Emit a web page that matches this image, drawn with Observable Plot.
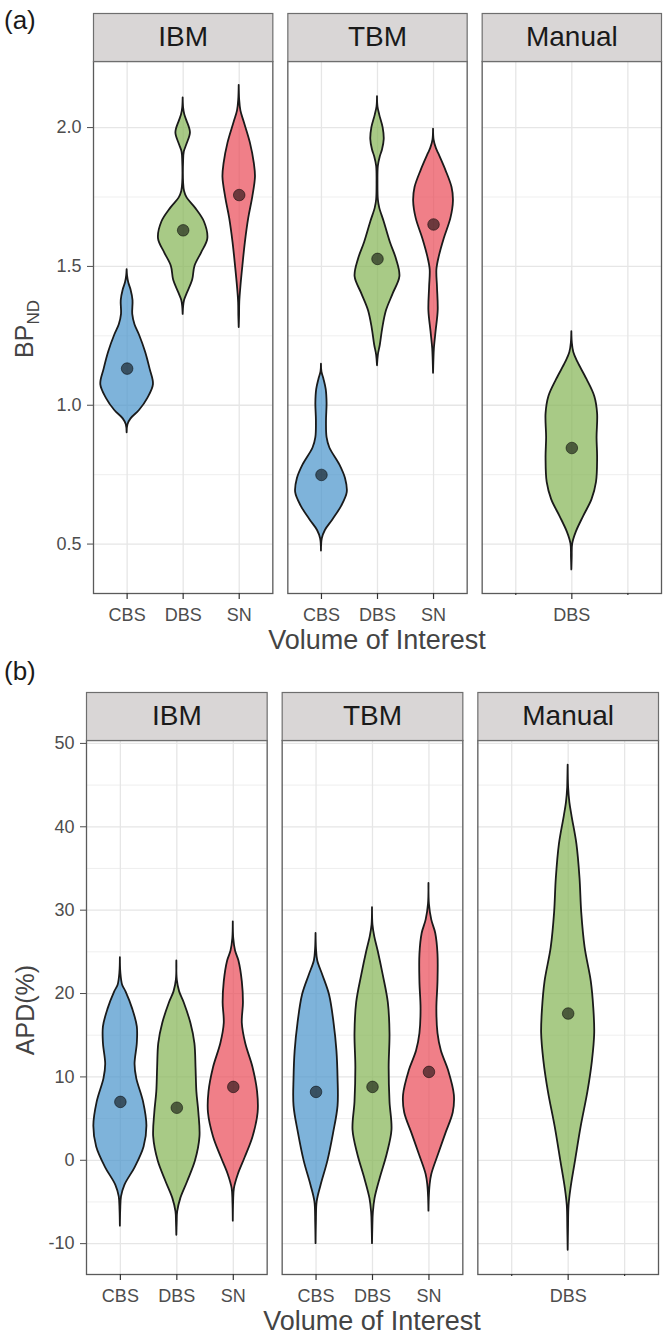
<!DOCTYPE html>
<html>
<head>
<meta charset="utf-8">
<script src="https://cdn.jsdelivr.net/npm/d3@7"></script>
<script src="https://cdn.jsdelivr.net/npm/@observablehq/plot@0.6"></script>
<style>
  html, body { margin: 0; padding: 0; background: #ffffff; }
  #root { width: 670px; font-family: "Liberation Sans", Arial, sans-serif; }
  #root svg { display: block; }
</style>
</head>
<body>
<div id="root"></div>
<script>
// ---------- categories ----------
const methods = ["IBM", "TBM", "Manual"];
const regions = ["CBS", "DBS", "SN"];
const regionColors = ["#4c95cc", "#86b557", "#ea4d5a"];

// ---------- tick labels ----------
const ibmLabels = ["CBS", "DBS", "SN"];
const tbmLabels = ["CBS", "DBS", "SN"];
const manualLabels = ["", "DBS", ""];
const bpTicks = [0.5, 1.0, 1.5, 2.0];
const bpMinor = [0.75, 1.25, 1.75];
const apdTicks = [-10, 0, 10, 20, 30, 40, 50];
const apdMinor = [-5, 5, 15, 25, 35, 45];

// ---------- (a) BPND violin profiles: [value, half width] ----------
const bpIBM_CBS = [[1.488,0],[1.465,0.008],[1.440,0.03],[1.415,0.07],[1.377,0.105],[1.327,0.10],[1.290,0.14],[1.253,0.22],[1.191,0.33],[1.130,0.41],[1.074,0.47],[1.025,0.37],[0.981,0.22],[0.951,0.07],[0.930,0.015],[0.901,0]];
const bpIBM_DBS = [[2.107,0],[2.070,0.008],[2.045,0.03],[2.025,0.065],[1.981,0.13],[1.938,0.065],[1.912,0.02],[1.880,0.008],[1.800,0.008],[1.770,0.025],[1.747,0.07],[1.710,0.22],[1.660,0.38],[1.599,0.44],[1.549,0.33],[1.500,0.21],[1.451,0.17],[1.401,0.07],[1.377,0.025],[1.355,0.008],[1.327,0]];
const bpIBM_SN = [[2.152,0],[2.100,0.008],[2.060,0.03],[2.019,0.09],[1.944,0.20],[1.870,0.27],[1.821,0.29],[1.747,0.24],[1.673,0.17],[1.586,0.11],[1.500,0.065],[1.426,0.03],[1.370,0.01],[1.320,0.006],[1.280,0]];
const bpTBM_CBS = [[1.148,0],[1.120,0.008],[1.093,0.045],[1.056,0.085],[1.006,0.10],[0.944,0.09],[0.883,0.10],[0.846,0.15],[0.784,0.33],[0.735,0.43],[0.685,0.46],[0.636,0.36],[0.586,0.20],[0.549,0.07],[0.519,0.015],[0.475,0]];
const bpTBM_DBS = [[2.111,0],[2.075,0.008],[2.045,0.04],[2.000,0.10],[1.957,0.12],[1.920,0.09],[1.895,0.05],[1.860,0.015],[1.800,0.008],[1.740,0.015],[1.710,0.04],[1.660,0.12],[1.586,0.23],[1.525,0.34],[1.463,0.40],[1.401,0.28],[1.340,0.16],[1.278,0.095],[1.216,0.05],[1.180,0.015],[1.142,0]];
const bpTBM_SN = [[1.994,0],[1.955,0.01],[1.925,0.05],[1.907,0.09],[1.846,0.22],[1.784,0.33],[1.735,0.355],[1.673,0.31],[1.599,0.19],[1.537,0.105],[1.488,0.06],[1.426,0.07],[1.340,0.083],[1.265,0.045],[1.204,0.015],[1.160,0.006],[1.115,0]];
const bpMan_DBS = [[1.265,0],[1.225,0.008],[1.190,0.035],[1.154,0.11],[1.093,0.27],[1.031,0.41],[0.969,0.46],[0.883,0.45],[0.809,0.46],[0.722,0.44],[0.660,0.36],[0.599,0.21],[0.543,0.08],[0.500,0.015],[0.450,0.006],[0.407,0]];
const bpMeansIBM = [1.132, 1.630, 1.757];
const bpMeansTBM = [0.749, 1.527, 1.651];
const bpMeansMan = [0.846];

// ---------- (b) APD violin profiles: [value, half width] ----------
const apdIBM_CBS = [[24.3,0],[22.5,0.008],[21.0,0.04],[20.2,0.10],[18.1,0.22],[16.0,0.30],[14.0,0.30],[11.5,0.26],[9.8,0.29],[7.0,0.41],[4.1,0.47],[1.6,0.42],[-0.9,0.26],[-3.0,0.08],[-4.4,0.02],[-6.0,0.006],[-7.9,0]];
const apdIBM_DBS = [[23.9,0],[21.6,0.008],[20.2,0.05],[18.9,0.13],[16.4,0.25],[14.0,0.32],[11.1,0.34],[8.2,0.355],[5.7,0.39],[2.8,0.41],[-0.1,0.33],[-2.6,0.19],[-4.6,0.07],[-6.2,0.015],[-7.5,0.006],[-9.0,0]];
const apdIBM_SN = [[28.6,0],[26.6,0.008],[25.1,0.04],[23.9,0.10],[21.4,0.16],[18.9,0.18],[16.4,0.16],[14.0,0.22],[11.1,0.35],[8.2,0.43],[5.7,0.44],[2.8,0.35],[0.3,0.21],[-1.7,0.09],[-3.4,0.02],[-5.0,0.006],[-7.3,0]];
const apdTBM_CBS = [[27.2,0],[25.3,0.008],[23.9,0.03],[22.2,0.12],[19.8,0.24],[16.4,0.32],[13.1,0.37],[9.8,0.39],[6.5,0.39],[3.2,0.31],[-0.1,0.21],[-3.0,0.09],[-5.0,0.02],[-7.5,0.006],[-10.0,0]];
const apdTBM_DBS = [[30.3,0],[28.2,0.008],[26.8,0.04],[25.1,0.10],[22.2,0.19],[18.9,0.28],[15.2,0.31],[11.1,0.295],[7.0,0.31],[3.6,0.345],[0.7,0.26],[-2.1,0.14],[-4.6,0.045],[-6.3,0.015],[-8.0,0.006],[-10.0,0]];
const apdTBM_SN = [[33.2,0],[30.7,0.008],[28.8,0.05],[27.2,0.12],[24.7,0.16],[21.4,0.16],[18.1,0.14],[15.2,0.16],[13.1,0.22],[10.7,0.35],[7.8,0.45],[5.7,0.43],[3.2,0.30],[0.7,0.17],[-1.7,0.05],[-3.0,0.02],[-4.5,0.006],[-6.1,0]];
const apdMan_DBS = [[47.4,0],[44.7,0.008],[42.9,0.03],[41.2,0.07],[37.9,0.155],[33.8,0.21],[29.7,0.24],[25.5,0.30],[21.4,0.41],[18.1,0.455],[15.2,0.47],[11.9,0.43],[8.2,0.35],[4.0,0.23],[-0.1,0.13],[-3.4,0.05],[-5.5,0.015],[-8.3,0.006],[-10.8,0]];
const apdMeansIBM = [7.0, 6.3, 8.8];
const apdMeansTBM = [8.2, 8.8, 10.6];
const apdMeansMan = [17.6];

// ---------- build tables ----------
function rowsOf(method, region, profile) {
  const pos = regions.indexOf(region) + 1;
  return profile.map(([v, hw]) => ({method, region, key: method + "-" + region, pos, v, hw}));
}
function meansOf(method, regs, vals) {
  return vals.map((v, i) => ({method, region: regs[i], pos: regions.indexOf(regs[i]) + 1, v}));
}
function tickRows(method, labels) {
  return labels.map((label, i) => ({method, pos: i + 1, label}));
}
const xTickRows = [
  ...tickRows("IBM", ibmLabels),
  ...tickRows("TBM", tbmLabels),
  ...tickRows("Manual", manualLabels)
];

const bpRows = [
  ...rowsOf("IBM", "CBS", bpIBM_CBS), ...rowsOf("IBM", "DBS", bpIBM_DBS), ...rowsOf("IBM", "SN", bpIBM_SN),
  ...rowsOf("TBM", "CBS", bpTBM_CBS), ...rowsOf("TBM", "DBS", bpTBM_DBS), ...rowsOf("TBM", "SN", bpTBM_SN),
  ...rowsOf("Manual", "DBS", bpMan_DBS)
];
const bpMeans = [
  ...meansOf("IBM", regions, bpMeansIBM), ...meansOf("TBM", regions, bpMeansTBM), ...meansOf("Manual", ["DBS"], bpMeansMan)
];
const apdRows = [
  ...rowsOf("IBM", "CBS", apdIBM_CBS), ...rowsOf("IBM", "DBS", apdIBM_DBS), ...rowsOf("IBM", "SN", apdIBM_SN),
  ...rowsOf("TBM", "CBS", apdTBM_CBS), ...rowsOf("TBM", "DBS", apdTBM_DBS), ...rowsOf("TBM", "SN", apdTBM_SN),
  ...rowsOf("Manual", "DBS", apdMan_DBS)
];
const apdMeans = [
  ...meansOf("IBM", regions, apdMeansIBM), ...meansOf("TBM", regions, apdMeansTBM), ...meansOf("Manual", ["DBS"], apdMeansMan)
];

const FONT = "'Liberation Sans', Arial, Helvetica, sans-serif";

function panel(o) {
  const innerH = o.height - o.marginTop - o.marginBottom;
  const svg = Plot.plot({
    width: 670,
    height: o.height,
    marginTop: o.marginTop,
    marginBottom: o.marginBottom,
    marginLeft: o.marginLeft,
    marginRight: o.marginRight,
    style: {fontFamily: FONT, background: "#ffffff", overflow: "visible"},
    fx: {domain: methods, axis: null, paddingInner: o.gap, paddingOuter: 0, round: false},
    x: {domain: [0.4, 3.6], axis: null},
    y: {domain: o.yDomain, axis: null},
    color: {domain: regions, range: regionColors},
    marks: [
      Plot.gridY(o.yMinor, {stroke: "#ebebeb", strokeOpacity: 1, strokeWidth: 0.8}),
      Plot.gridY(o.yTicks, {stroke: "#e6e6e6", strokeOpacity: 1, strokeWidth: 1.3}),
      Plot.gridX([1, 2, 3], {stroke: "#e6e6e6", strokeOpacity: 1, strokeWidth: 1.3}),
      Plot.areaX(o.rows, {
        fx: "method", y: "v",
        x1: d => d.pos - d.hw, x2: d => d.pos + d.hw,
        z: "key", fill: "region", fillOpacity: 0.72,
        stroke: "#1a1a1a", strokeWidth: 1.8, curve: "catmull-rom"
      }),
      Plot.dot(o.means, {
        fx: "method", x: "pos", y: "v", r: 5.8,
        fill: "#000000", fillOpacity: 0.55, stroke: "#000000", strokeOpacity: 0.5, strokeWidth: 1
      }),
      Plot.frame({stroke: "#5a5a5a", strokeWidth: 1.3}),
      Plot.frame({fill: "#d9d6d6", stroke: "#6e6e6e", strokeWidth: 1.2, insetTop: -48, insetBottom: innerH}),
      Plot.text(methods, {fx: d => d, text: d => d, frameAnchor: "top", lineAnchor: "middle", dy: -24, fontSize: 28, fill: "#1a1a1a"}),
      Plot.axisY(o.yTicks, {tickSize: 6, tickPadding: 6, fontSize: 18, color: "#4d4d4d", tickFormat: o.yFormat, label: null}),
      Plot.ruleX(xTickRows.filter(d => d.label !== ""), {fx: "method", x: "pos", insetTop: innerH, insetBottom: -6, stroke: "#333333", strokeWidth: 1.2}),
      Plot.ruleX(xTickRows.filter(d => d.label === ""), {fx: "method", x: "pos", insetTop: innerH, insetBottom: -2, stroke: "#333333", strokeWidth: 1.2}),
      Plot.text(xTickRows, {fx: "method", x: "pos", text: "label", frameAnchor: "bottom", lineAnchor: "middle", dy: 22, fontSize: 18, fill: "#4d4d4d"})
    ]
  });
  const sel = d3.select(svg);
  // panel tag
  sel.append("text").attr("x", 4).attr("y", o.tagY).attr("text-anchor", "start")
    .attr("font-family", FONT).attr("font-size", 26).attr("fill", "#1a1a1a").text(o.tag);
  // x title
  const frameBottom = o.height - o.marginBottom;
  sel.append("text")
    .attr("x", (o.marginLeft + 670 - o.marginRight) / 2).attr("y", frameBottom + 49)
    .attr("text-anchor", "middle").attr("dominant-baseline", "middle")
    .attr("font-family", FONT).attr("font-size", 27).attr("fill", "#444444")
    .text("Volume of Interest");
  // y title
  const cy = o.marginTop + innerH / 2 + o.yTitleShift;
  const t = sel.append("text")
    .attr("transform", `translate(${o.yTitleX},${cy}) rotate(-90)`)
    .attr("text-anchor", "middle")
    .attr("font-family", FONT).attr("font-size", 25).attr("fill", "#444444");
  o.yTitle(t);
  return svg;
}

const root = document.getElementById("root");
root.appendChild(panel({
  height: 660, marginTop: 61, marginBottom: 67, marginLeft: 93, marginRight: 9, gap: 0.0772,
  yDomain: [0.322, 2.238], yTicks: bpTicks, yMinor: bpMinor, yFormat: d3.format(".1f"),
  rows: bpRows, means: bpMeans, tag: "(a)", tagY: 29, yTitleX: 33, yTitleShift: 2,
  yTitle: t => {
    t.append("tspan").text("BP");
    t.append("tspan").attr("font-size", 17).attr("dy", 6).text("ND");
  }
}));
root.appendChild(panel({
  height: 681, marginTop: 80, marginBottom: 67, marginLeft: 86, marginRight: 12, gap: 0.0767,
  yDomain: [-13.7, 50.35], yTicks: apdTicks, yMinor: apdMinor, yFormat: d => String(d),
  rows: apdRows, means: apdMeans, tag: "(b)", tagY: 20, yTitleX: 34, yTitleShift: 3,
  yTitle: t => { t.text("APD(%)"); }
}));
</script>
</body>
</html>
